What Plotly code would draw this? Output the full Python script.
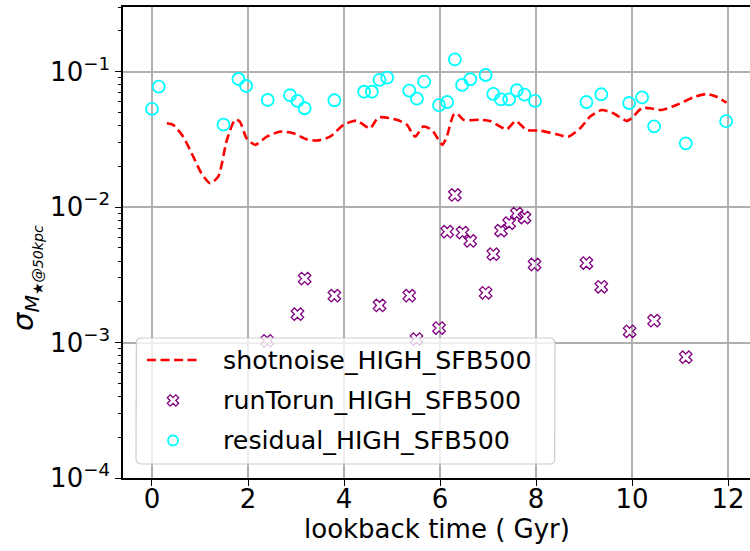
import math
import plotly.graph_objects as go

# ---------------- data ----------------
shot_t = [0.31, 0.44, 0.65, 0.86, 1.03, 1.21, 1.38, 1.56, 1.73, 1.83, 1.97, 2.15, 2.39,
          2.67, 2.94, 3.22, 3.43, 3.71, 3.99, 4.26, 4.54, 4.72, 5.10, 5.31, 5.48, 5.65,
          5.83, 5.93, 6.05, 6.14, 6.28, 6.35, 6.49, 6.83, 7.04, 7.39, 7.58, 7.80, 8.08,
          8.43, 8.67, 8.92, 9.13, 9.37, 9.61, 9.89, 9.99, 10.20, 10.38, 10.62, 10.93,
          11.28, 11.55, 11.76, 11.97]
shot_sigma = [0.0416, 0.0405, 0.0331, 0.0236, 0.0178, 0.0150, 0.0168, 0.0313, 0.0441,
              0.0428, 0.0322, 0.0288, 0.0331, 0.0361, 0.0351, 0.0317, 0.0310, 0.0331,
              0.0405, 0.0435, 0.0382, 0.0460, 0.0441, 0.0405, 0.0331, 0.0393, 0.0372,
              0.0331, 0.0288, 0.0331, 0.0479, 0.0493, 0.0441, 0.0441, 0.0433, 0.0376,
              0.0433, 0.0372, 0.0367, 0.0345, 0.0331, 0.0382, 0.0466, 0.0521, 0.0493,
              0.0433, 0.0453, 0.0537, 0.0537, 0.0521, 0.0568, 0.0647, 0.0684, 0.0653,
              0.0590]

run_t = [2.40, 3.03, 3.18, 3.80, 4.74, 5.36, 5.51, 5.98, 6.15, 6.31, 6.47, 6.63, 6.95,
         7.11, 7.27, 7.44, 7.60, 7.76, 7.97, 9.05, 9.36, 9.95, 10.46, 11.12]
run_sigma = [0.00103, 0.00162, 0.00297, 0.00222, 0.00188, 0.00222, 0.00106, 0.00128,
             0.00659, 0.0123, 0.00649, 0.00563, 0.00233, 0.00449, 0.00671, 0.00761,
             0.00896, 0.00837, 0.00377, 0.00386, 0.00258, 0.00121, 0.00145, 0.00078]

res_t = [0.00, 0.14, 1.49, 1.80, 1.96, 2.41, 2.875, 3.03, 3.18, 3.80, 4.42, 4.58, 4.74,
         4.90, 5.36, 5.52, 5.67, 5.98, 6.15, 6.31, 6.46, 6.63, 6.95, 7.11, 7.27, 7.44,
         7.60, 7.76, 7.98, 9.05, 9.36, 9.94, 10.21, 10.46, 11.12, 11.96]
res_sigma = [0.0531, 0.0775, 0.0406, 0.0883, 0.0784, 0.0618, 0.0670, 0.0608, 0.0537,
             0.0615, 0.0711, 0.0711, 0.0869, 0.0904, 0.0724, 0.0632, 0.0844, 0.0566,
             0.0597, 0.1234, 0.0798, 0.0879, 0.0945, 0.0685, 0.0625, 0.0625, 0.0729,
             0.0676, 0.0608, 0.0597, 0.0681, 0.0587, 0.0647, 0.0395, 0.0296, 0.0431]

series_names = ["shotnoise_HIGH_SFB500", "runTorun_HIGH_SFB500", "residual_HIGH_SFB500"]
x_tickvals = [0, 2, 4, 6, 8, 10, 12]
y_tickvals = [1e-4, 1e-3, 1e-2, 1e-1]
y_ticktext = ["10<sup>−4</sup>", "10<sup>−3</sup>", "10<sup>−2</sup>", "10<sup>−1</sup>"]
y_minor = [m * 10.0 ** e for e in range(-4, 0) for m in range(2, 10)]
x_title = "lookback time ( Gyr)"
y_title = "<i>σ</i><sub><i>M</i><sub><i>★@50kpc</i></sub></sub>"

# ---------------- layout geometry ----------------
W, H = 750, 551
L, R, T, B = 123, 0, 7, 73
PX0, PX1, PY0, PY1 = L, W - R, T, H - B      # plot-area pixel box
X_RANGE = [-0.604, 12.458]
Y_RANGE = [-4, -0.5225]

RED, PURPLE, CYAN = "#ff0000", "#800080", "#00ffff"
DASH = "9px,4.5px"
FONT = "DejaVu Sans"
FS = 26
FS_LEG = 25.3


def px_paper_x(px):
    return (px - PX0) / (PX1 - PX0)


def px_paper_y(py):
    return (PY1 - py) / (PY1 - PY0)


def rounded_rect(x0, y0, x1, y1, r, n=8):
    xs, ys = [], []
    corners = [(x1 - r, y0 + r, -90, 0), (x1 - r, y1 - r, 0, 90),
               (x0 + r, y1 - r, 90, 180), (x0 + r, y0 + r, 180, 270)]
    for cx, cy, a0, a1 in corners:
        for k in range(n + 1):
            a = math.radians(a0 + (a1 - a0) * k / n)
            xs.append(cx + r * math.cos(a))
            ys.append(cy + r * math.sin(a))
    xs.append(xs[0])
    ys.append(ys[0])
    return xs, ys


fig = go.Figure()

fig.add_trace(go.Scatter(
    x=shot_t, y=shot_sigma, mode="lines", name=series_names[0], showlegend=False,
    line=dict(color=RED, width=2.6, dash=DASH, shape="spline", smoothing=0.6)))
fig.add_trace(go.Scatter(
    x=run_t, y=run_sigma, mode="markers", name=series_names[1], showlegend=False,
    marker=dict(symbol="x-open", size=11, color=PURPLE, line=dict(width=1.3, color=PURPLE))))
fig.add_trace(go.Scatter(
    x=res_t, y=res_sigma, mode="markers", name=series_names[2], showlegend=False,
    marker=dict(symbol="circle-open", size=12, color=CYAN, line=dict(width=1.8, color=CYAN))))

# ---------------- legend (overlay axes in pixel units) ----------------
LEG = dict(x0=136, y0=338, x1=555, y1=464)
lx, ly = rounded_rect(LEG["x0"], LEG["y0"], LEG["x1"], LEG["y1"], 5)
fig.add_trace(go.Scatter(
    x=lx, y=ly, xaxis="x2", yaxis="y2", mode="lines", fill="toself",
    fillcolor="rgba(255,255,255,0.8)", line=dict(color="#cccccc", width=1.2),
    showlegend=False, hoverinfo="skip"))
row_y = [360, 400.5, 440.5]
fig.add_trace(go.Scatter(
    x=[147, 198], y=[row_y[0], row_y[0]], xaxis="x2", yaxis="y2", mode="lines",
    line=dict(color=RED, width=2.6, dash=DASH), showlegend=False, hoverinfo="skip"))
fig.add_trace(go.Scatter(
    x=[173], y=[row_y[1]], xaxis="x2", yaxis="y2", mode="markers",
    marker=dict(symbol="x-open", size=10, color=PURPLE, line=dict(width=1.3, color=PURPLE)),
    showlegend=False, hoverinfo="skip"))
fig.add_trace(go.Scatter(
    x=[173], y=[row_y[2]], xaxis="x2", yaxis="y2", mode="markers",
    marker=dict(symbol="circle-open", size=10, color=CYAN, line=dict(width=1.8, color=CYAN)),
    showlegend=False, hoverinfo="skip"))

annotations = []
for name, yy in zip(series_names, row_y):
    annotations.append(dict(
        x=221, y=yy, xref="x2", yref="y2", text=name, showarrow=False,
        xanchor="left", yanchor="middle", font=dict(size=FS_LEG, family=FONT, color="black")))
annotations.append(dict(
    x=px_paper_x(437), y=px_paper_y(529), xref="paper", yref="paper", text=x_title,
    showarrow=False, xanchor="center", yanchor="middle",
    font=dict(size=FS, family=FONT, color="black")))
annotations.append(dict(
    x=px_paper_x(26), y=px_paper_y(278), xref="paper", yref="paper", text=y_title,
    showarrow=False, xanchor="center", yanchor="middle", textangle=-90,
    font=dict(size=29, family=FONT, color="black")))

fig.update_layout(
    width=W, height=H,
    margin=dict(l=L, r=R, t=T, b=B, pad=0),
    paper_bgcolor="white", plot_bgcolor="white",
    font=dict(family=FONT, size=FS, color="black"),
    showlegend=False,
    annotations=annotations,
    xaxis=dict(
        range=X_RANGE, tickmode="array", tickvals=x_tickvals,
        ticks="outside", ticklen=6, tickwidth=1.3, tickcolor="black",
        ticklabelstandoff=-9,
        showline=True, linecolor="black", linewidth=1.6, mirror=True,
        showgrid=True, gridcolor="#b0b0b0", gridwidth=1.5, zeroline=False,
        tickfont=dict(size=FS, family=FONT, color="black")),
    yaxis=dict(
        type="log", range=Y_RANGE, tickmode="array", tickvals=y_tickvals,
        ticktext=y_ticktext, ticks="outside", ticklen=6, tickwidth=1.3,
        tickcolor="black", showline=True, linecolor="black", linewidth=1.6,
        mirror=False, showgrid=True, gridcolor="#b0b0b0", gridwidth=1.5,
        zeroline=False, tickfont=dict(size=FS, family=FONT, color="black"),
        minor=dict(tickmode="array", tickvals=y_minor, ticks="outside", ticklen=3.5,
                   tickwidth=1, tickcolor="black", showgrid=False)),
    xaxis2=dict(overlaying="x", range=[PX0, PX1], visible=False, fixedrange=True),
    yaxis2=dict(overlaying="y", range=[PY1, PY0], visible=False, fixedrange=True),
)

fig.write_html("out.html")
